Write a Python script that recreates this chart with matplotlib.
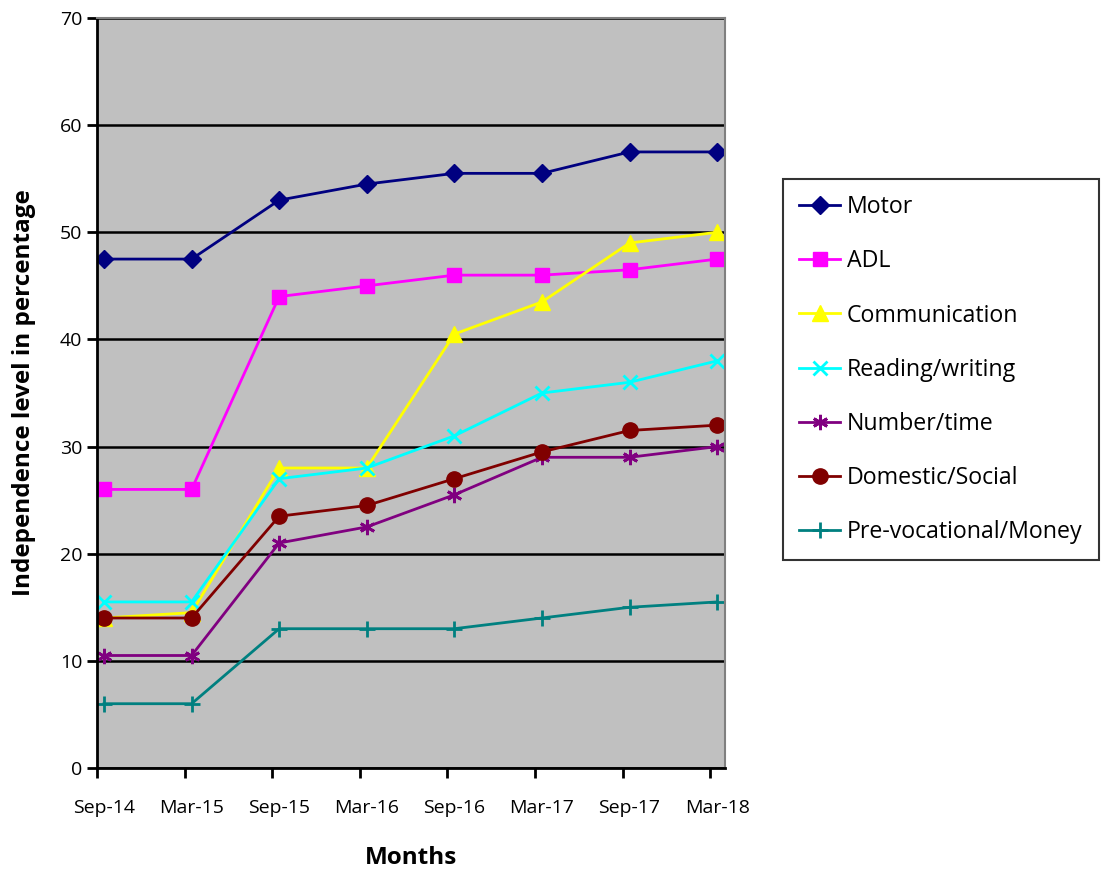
import matplotlib.pyplot as plt
import numpy as np

plt.rcParams['font.family'] = ['Open Sans', 'DejaVu Sans']

# meses y series
meses = ['Sep-14', 'Mar-15', 'Sep-15', 'Mar-16', 'Sep-16', 'Mar-17', 'Sep-17', 'Mar-18']
motor = [47.5, 47.5, 53, 54.5, 55.5, 55.5, 57.5, 57.5]
adl = [26, 26, 44, 45, 46, 46, 46.5, 47.5]
comunicacion = [14, 14.5, 28, 28, 40.5, 43.5, 49, 50]
lectura = [15.5, 15.5, 27, 28, 31, 35, 36, 38]
numero = [10.5, 10.5, 21, 22.5, 25.5, 29, 29, 30]
domestico = [14, 14, 23.5, 24.5, 27, 29.5, 31.5, 32]
prevocacional = [6, 6, 13, 13, 13, 14, 15, 15.5]

series = [
    ('Motor', motor, '#000080', 'D', 9),
    ('ADL', adl, '#FF00FF', 's', 10),
    ('Communication', comunicacion, '#FFFF00', '^', 11),
    ('Reading/writing', lectura, '#00FFFF', 'x', 10),
    ('Number/time', numero, '#800080', (6, 2, 0), 11),
    ('Domestic/Social', domestico, '#800000', 'o', 11),
    ('Pre-vocational/Money', prevocacional, '#008080', '+', 12),
]

fig = plt.figure(figsize=(11.04, 8.71), dpi=100)
ax = fig.add_axes([97 / 1104, 1 - 768 / 871, 628 / 1104, 750 / 871])
ax.set_facecolor('#C0C0C0')

x = np.arange(len(meses))
for nombre, valores, color, marcador, tam in series:
    ax.plot(x, valores, color=color, marker=marcador, markersize=tam,
            linewidth=2, markeredgewidth=2 if marcador in ('x', '+') or isinstance(marcador, tuple) else 1,
            markeredgecolor=color, label=nombre)

ax.set_ylim(0, 70)
ax.set_xlim(-0.07, 7.09)
ax.set_yticks(np.arange(0, 71, 10))
ax.yaxis.grid(True, color='black', linewidth=1.8)
ax.set_axisbelow(True)

# ticks entre categorias, etiquetas en los puntos
ax.set_xticks(x - 0.08)
ax.set_xticklabels([])
ax.set_xticks(x, minor=True)
ax.set_xticklabels(meses, minor=True)
ax.tick_params(axis='x', which='minor', length=0, pad=22, labelsize=14)
ax.tick_params(axis='x', which='major', length=7, width=2, direction='out')
ax.tick_params(axis='y', length=7, width=2, labelsize=14)

for lado in ['left', 'bottom']:
    ax.spines[lado].set_linewidth(2)
    ax.spines[lado].set_color('black')
for lado in ['top', 'right']:
    ax.spines[lado].set_linewidth(1.5)
    ax.spines[lado].set_color('#808080')

ax.set_ylabel('Independence level in percentage', fontsize=17.5, fontweight='bold', labelpad=17)
ax.set_xlabel('Months', fontsize=17.5, fontweight='bold', labelpad=21)

leg = fig.legend(loc='upper left', bbox_to_anchor=(783 / 1104, 1 - 179 / 871),
                 fontsize=16.7, frameon=True, fancybox=False, edgecolor='black',
                 labelspacing=1.3, handlelength=1.75, handletextpad=0.3,
                 borderpad=0.7, borderaxespad=0)
leg.get_frame().set_linewidth(1.5)

fig.savefig('out.png', dpi=100)
